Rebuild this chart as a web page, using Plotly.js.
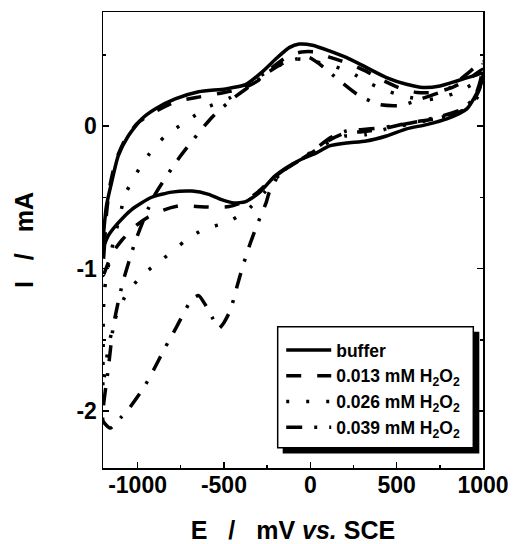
<!DOCTYPE html>
<html>
<head>
<meta charset="utf-8">
<script src="https://cdn.plot.ly/plotly-3.0.1.min.js"></script>
<style>html,body{margin:0;padding:0;background:#fff;}#chart{width:513px;height:544px;}</style>
</head>
<body>
<div id="chart"></div>
<script>
// Series names
var seriesNames = ['buffer', '0.013 mM H<sub>2</sub>O<sub>2</sub>', '0.026 mM H<sub>2</sub>O<sub>2</sub>', '0.039 mM H<sub>2</sub>O<sub>2</sub>'];

// buffer: anodic sweep (-1200 -> 1000) then cathodic sweep (1000 -> -1200)
var bufferE = [-1200,-1180,-1151,-1112,-1054,-976,-898,-782,-646,-491,-375,-278,-200,-122,-64,13,111,208,324,441,557,654,751,848,945,1000,
               984,906,790,673,557,441,324,208,111,33,-45,-122,-204,-297,-374,-442,-518,-588,-685,-802,-918,-1034,-1112,-1170,-1200];
var bufferI = [-0.85,-0.56,-0.40,-0.21,-0.07,0.05,0.12,0.19,0.24,0.26,0.29,0.38,0.47,0.55,0.575,0.567,0.527,0.481,0.411,0.340,0.293,0.270,0.281,0.316,0.352,0.37,
               0.28,0.12,0.05,0.01,-0.02,-0.07,-0.105,-0.12,-0.14,-0.19,-0.23,-0.28,-0.35,-0.47,-0.53,-0.54,-0.515,-0.48,-0.457,-0.464,-0.50,-0.586,-0.68,-0.77,-0.85];

// 0.013 mM H2O2
var h013E = [-1200,-1192,-1180,-1160,-1125,-1070,-1000,-900,-780,-660,-520,-400,-300,-210,-130,-50,30,120,220,330,420,530,620,720,820,920,1000,
             980,930,850,720,560,420,300,200,110,30,-50,-130,-220,-300,-380,-470,-560,-660,-760,-850,-940,-1010,-1090,-1150,-1200];
var h013I = [-1.05,-0.85,-0.62,-0.42,-0.24,-0.09,0.02,0.10,0.17,0.20,0.23,0.26,0.32,0.42,0.49,0.52,0.52,0.48,0.44,0.38,0.32,0.26,0.235,0.235,0.27,0.33,0.40,
             0.26,0.15,0.09,0.05,0.02,-0.02,-0.04,-0.05,-0.10,-0.17,-0.23,-0.29,-0.37,-0.46,-0.53,-0.565,-0.57,-0.565,-0.56,-0.59,-0.64,-0.70,-0.80,-0.90,-1.05];

// 0.026 mM H2O2
var h026E = [-1200,-1199,-1198,-1190,-1176,-1158,-1129,-1100,-1075,-1015,-941,-840,-714,-598,-462,-355,-250,-150,-60,35,111,227,343,460,576,680,790,890,960,1000,
             980,930,850,720,560,442,326,200,110,30,-50,-130,-200,-268,-373,-489,-611,-728,-850,-966,-1060,-1120,-1160,-1185,-1200];
var h026I = [-1.85,-1.55,-1.30,-1.14,-1.03,-0.91,-0.76,-0.62,-0.49,-0.35,-0.21,-0.07,0.035,0.13,0.20,0.30,0.38,0.44,0.47,0.45,0.43,0.38,0.30,0.24,0.20,0.185,0.21,0.26,0.31,0.35,
             0.23,0.14,0.09,0.05,0.01,-0.02,-0.06,-0.07,-0.11,-0.17,-0.23,-0.29,-0.37,-0.47,-0.60,-0.68,-0.72,-0.81,-0.93,-1.04,-1.17,-1.32,-1.50,-1.68,-1.85];

// 0.039 mM H2O2
var h039E = [-1200,-1196,-1170,-1141,-1088,-1013,-908,-757,-570,-440,-338,-240,-160,-80,-6,80,157,274,402,530,640,797,902,972,1000,
             985,950,880,760,620,480,350,210,120,30,-60,-140,-180,-239,-256,-310,-355,-392,-425,-462,-500,-530,-565,-605,-646,-680,-704,-774,-838,-902,-966,-1054,-1100,-1158,-1200];
var h039I = [-2.07,-1.95,-1.71,-1.41,-1.11,-0.81,-0.50,-0.22,0.06,0.20,0.29,0.38,0.44,0.47,0.48,0.41,0.33,0.22,0.15,0.145,0.19,0.26,0.36,0.43,0.45,
             0.32,0.20,0.12,0.07,0.03,0.0,-0.02,-0.035,-0.08,-0.16,-0.24,-0.30,-0.34,-0.47,-0.54,-0.70,-0.85,-0.99,-1.13,-1.29,-1.38,-1.42,-1.35,-1.26,-1.19,-1.21,-1.25,-1.41,-1.55,-1.70,-1.84,-1.99,-2.05,-2.12,-2.07];

// Axis ticks
var xTickVals = [-1000, -500, 0, 500, 1000];
var yTickVals = [-2, -1, 0];

var lw = 3.5;
function tr(x, y, name, dash) {
  return {x: x, y: y, name: name, type: 'scatter', mode: 'lines',
          line: {color: '#000', width: lw, dash: dash, shape: 'spline', smoothing: 0.6}};
}
var data = [
  tr(bufferE, bufferI, seriesNames[0], 'solid'),
  tr(h013E, h013I, seriesNames[1], '15px,16px'),
  tr(h026E, h026I, seriesNames[2], '3px,17px'),
  tr(h039E, h039I, seriesNames[3], '16px,12px,3px,12px')
];

var fnt = 'Liberation Sans, Arial, Helvetica, sans-serif';
var nb = '\u00A0';
var layout = {
  width: 513, height: 544,
  margin: {l: 103, r: 30, t: 12, b: 76},
  paper_bgcolor: '#fff', plot_bgcolor: '#fff',
  showlegend: true,
  xaxis: {
    range: [-1200, 1000], tickvals: xTickVals, ticktext: xTickVals.map(String),
    showline: true, linecolor: '#000', linewidth: 1.5, mirror: true,
    ticks: 'inside', ticklen: 6, tickwidth: 1.5, tickcolor: '#000',
    minor: {tickvals: [-750, -250, 250, 750], ticks: 'inside', ticklen: 3, tickwidth: 1.5, tickcolor: '#000'},
    showgrid: false, zeroline: false, ticklabelstandoff: -4,
    tickfont: {family: fnt, size: 23, weight: 'bold', color: '#000'},
    title: {text: 'E' + nb+nb+nb + '/' + nb+nb+nb + 'mV <i>vs.</i> SCE', font: {family: fnt, size: 25, weight: 'bold', color: '#000'}, standoff: 24}
  },
  yaxis: {
    range: [-2.4, 0.8], tickvals: yTickVals, ticktext: yTickVals.map(String),
    showline: true, linecolor: '#000', linewidth: 1.5, mirror: 'ticks',
    ticks: 'inside', ticklen: 6, tickwidth: 1.5, tickcolor: '#000',
    minor: {tickvals: [-1.5, -0.5, 0.5], ticks: 'inside', ticklen: 3, tickwidth: 1.5, tickcolor: '#000'},
    showgrid: false, zeroline: false,
    tickfont: {family: fnt, size: 23, weight: 'bold', color: '#000'},
    title: {text: 'I' + nb+nb+nb + '/' + nb+nb+nb + 'mA', font: {family: fnt, size: 25, weight: 'bold', color: '#000'}, standoff: 35}
  },
  legend: {
    x: 0.469, y: 0.2982, xanchor: 'left', yanchor: 'top',
    bgcolor: 'rgba(0,0,0,0)', borderwidth: 0,
    font: {family: fnt, size: 17.5, weight: 'bold', color: '#000'},
    itemwidth: 45, tracegroupgap: 0
  },
  shapes: [
    {type: 'rect', xref: 'paper', yref: 'paper', layer: 'above',
     x0: 0.4729, x1: 0.9903, y0: 0.032, y1: 0.2989,
     fillcolor: '#000', line: {width: 0}},
    {type: 'rect', xref: 'paper', yref: 'paper', layer: 'above',
     x0: 0.4597, x1: 0.9745, y0: 0.0445, y1: 0.3099,
     fillcolor: '#fff', line: {color: '#000', width: 1.5}}
  ]
};
Plotly.newPlot('chart', data, layout, {staticPlot: true});
</script>
</body>
</html>
